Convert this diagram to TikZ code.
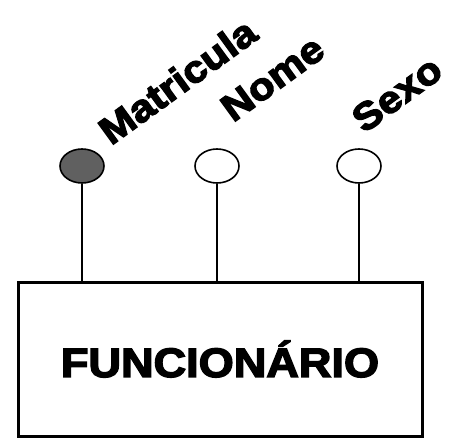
\documentclass[tikz,border=0pt]{standalone}
\usepackage{fontspec}
\usetikzlibrary{shapes.geometric}
\newfontfamily\heavy{Liberation Sans Bold}[FakeBold=3.5, FakeStretch=1.1]
\definecolor{keyfill}{HTML}{606060}
\tikzset{
  attr/.style={ellipse, draw=black, line width=1.6pt, minimum width=44pt, minimum height=34pt, inner sep=0pt},
  keyattr/.style={attr, fill=keyfill},
  plainattr/.style={attr, fill=white},
  lbl/.style={anchor=base west, rotate=36, inner sep=0pt, font=\heavy\fontsize{38}{38}\selectfont},
  entbox/.style={draw=black, line width=3pt, minimum width=404pt, minimum height=154pt, inner sep=0pt, font=\heavy\fontsize{41}{41}\selectfont},
  link/.style={draw=black, line width=2.8pt},
}
\begin{document}
\begin{tikzpicture}[x=1pt, y=-1pt]
\useasboundingbox (0,0) rectangle (454,438);
\node[entbox] (ent) at (220,359) {FUNCIONÁRIO};
\node[keyattr] (mat) at (82,166) {};
\node[plainattr] (nom) at (217,166) {};
\node[plainattr] (sex) at (359,166) {};
\draw[link] (mat.south) -- (mat.south |- ent.north);
\draw[link, line width=2pt] (nom.south) -- (nom.south |- ent.north);
\draw[link] (sex.south) -- (sex.south |- ent.north);
\node[lbl] (lmat) at (111,146) {Matricula};
\node[lbl] (lnom) at (233,123) {Nome};
\node[lbl] (lsex) at (364,134) {Sexo};
\end{tikzpicture}
\end{document}
